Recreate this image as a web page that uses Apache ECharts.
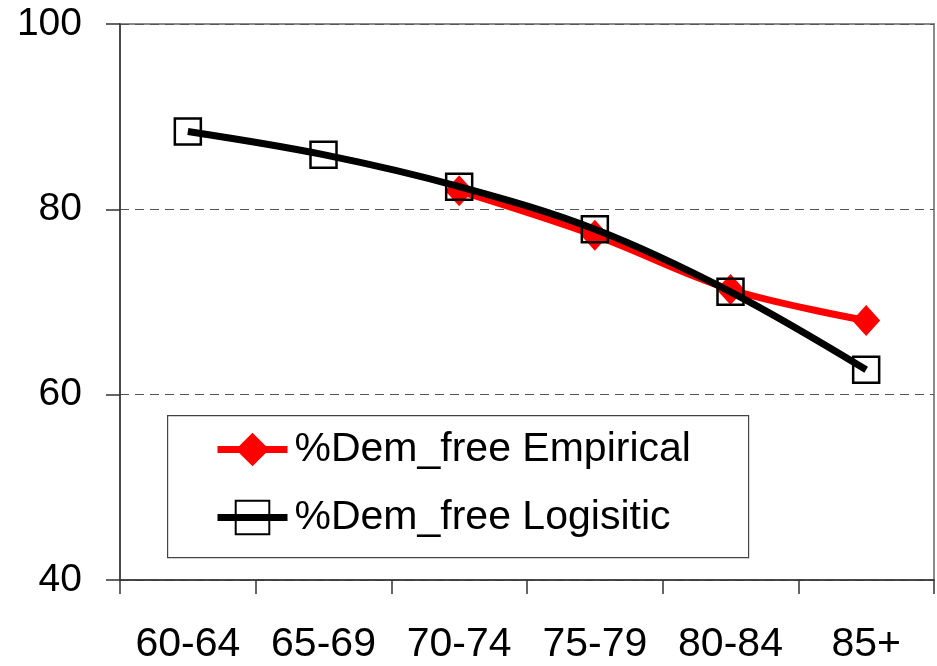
<!DOCTYPE html>
<html>
<head>
<meta charset="utf-8">
<script src="https://cdn.jsdelivr.net/npm/echarts@6/dist/echarts.min.js"></script>
<style>
html,body{margin:0;padding:0;background:#fff;}
#c{width:937px;height:666px;}
</style>
</head>
<body>
<div id="c"></div>
<script>
var categories = ['60-64', '65-69', '70-74', '75-79', '80-84', '85+'];
var empirical = [null, null, 82.0, 77.2, 71.35, 68.0];
var logistic = [88.4, 85.9, 82.45, 77.85, 71.1, 62.7];
var yTicks = [40, 60, 80, 100];

var FONT = 'Liberation Sans';
var chart = echarts.init(document.getElementById('c'), null, {renderer: 'canvas'});
chart.setOption({
  animation: false,
  backgroundColor: '#fff',
  grid: {left: 120, top: 24, right: 3, bottom: 86, show: true, borderColor: '#8a8a8a', borderWidth: 2, backgroundColor: 'transparent'},
  xAxis: {
    type: 'category',
    data: categories,
    boundaryGap: true,
    axisLine: {lineStyle: {color: '#333', width: 1.5}},
    axisTick: {show: true, inside: false, length: 14, interval: 0, alignWithLabel: false, lineStyle: {color: '#333', width: 1.5}},
    axisLabel: {color: '#000', fontFamily: FONT, fontSize: 41, lineHeight: 41, margin: 44, interval: 0},
    splitLine: {show: false}
  },
  yAxis: {
    type: 'value',
    min: yTicks[0], max: yTicks[yTicks.length - 1], interval: 20,
    axisLine: {show: true, lineStyle: {color: '#333', width: 1.5}},
    axisTick: {show: true, inside: false, length: 14, lineStyle: {color: '#333', width: 1.5}},
    axisLabel: {color: '#000', fontFamily: FONT, fontSize: 39, margin: 38},
    splitLine: {show: true, lineStyle: {color: '#555', type: [9, 6], width: 1}}
  },
  legend: {
    orient: 'vertical',
    left: 214, top: 428,
    padding: 0,
    itemWidth: 70, itemHeight: 42, itemGap: 25,
    lineStyle: {width: 7},
    textStyle: {color: '#000', fontFamily: FONT, fontSize: 41, lineHeight: 43, padding: [0, 0, 0, 2]},
    data: ['%Dem_free Empirical', '%Dem_free Logisitic']
  },
  graphic: [{
    type: 'rect', left: 167, top: 415, z: 0,
    shape: {width: 581, height: 142},
    style: {fill: '#fff', stroke: '#444', lineWidth: 1.2}
  }],
  series: [
    {
      name: '%Dem_free Empirical', type: 'line', data: empirical, z: 2,
      smooth: 0.35, connectNulls: false,
      symbol: 'diamond', symbolSize: [28, 31], showSymbol: true,
      lineStyle: {color: '#ff0000', width: 7},
      itemStyle: {color: '#ff0000', borderWidth: 0}
    },
    {
      name: '%Dem_free Logisitic', type: 'line', data: logistic, z: 3,
      smooth: 0.35,
      symbol: 'rect', symbolSize: [26, 26], showSymbol: true,
      lineStyle: {color: '#000', width: 7},
      itemStyle: {color: 'rgba(255,255,255,0)', borderColor: '#000', borderWidth: 2.5}
    }
  ]
});
</script>
</body>
</html>
